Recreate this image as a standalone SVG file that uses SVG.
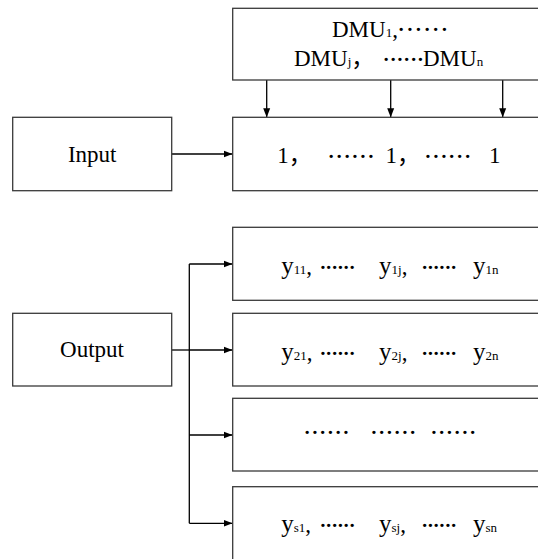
<svg xmlns="http://www.w3.org/2000/svg" width="538" height="559" viewBox="0 0 538 559">
<defs>
<style>
.box{fill:#fff;stroke:#3a3a3a;stroke-width:1.3}
.t{font-family:"Liberation Serif","Times New Roman",serif;font-size:23px;fill:#000}
.y{font-size:25px}
.sub{font-size:13px}
.cj{font-family:"Noto Sans CJK SC",sans-serif}
.dot{font-family:"Liberation Serif","Times New Roman",serif;font-size:28px;fill:#000}
.ln{fill:none;stroke:#000;stroke-width:1.3}
</style>
<marker id="ah" markerUnits="userSpaceOnUse" markerWidth="9" markerHeight="8" refX="9" refY="4" orient="auto">
<path d="M0,0.5 L9,4 L0,7.5 z" fill="#000"/>
</marker>
</defs>
<g id="connectors">
<line class="ln" x1="172" y1="154" x2="232.5" y2="154" marker-end="url(#ah)"/>
<line class="ln" x1="266.7" y1="80" x2="266.7" y2="117.3" marker-end="url(#ah)"/>
<line class="ln" x1="390.7" y1="80" x2="390.7" y2="117.3" marker-end="url(#ah)"/>
<line class="ln" x1="502.7" y1="80" x2="502.7" y2="117.3" marker-end="url(#ah)"/>
<line class="ln" x1="172" y1="350" x2="189.3" y2="350"/>
<line class="ln" x1="189.3" y1="264" x2="189.3" y2="523.3"/>
<line class="ln" x1="189.3" y1="264" x2="232.5" y2="264" marker-end="url(#ah)"/>
<line class="ln" x1="189.3" y1="350" x2="232.5" y2="350" marker-end="url(#ah)"/>
<line class="ln" x1="189.3" y1="435" x2="232.5" y2="435" marker-end="url(#ah)"/>
<line class="ln" x1="189.3" y1="523.3" x2="232.5" y2="523.3" marker-end="url(#ah)"/>
</g>
<g id="dmu">
<rect class="box" x="232.7" y="8.3" width="320" height="71.7"/>
<text class="t" x="332" y="36.5">DMU<tspan class="sub">1</tspan>,</text>
<text class="dot" x="396.6" y="39" letter-spacing="-0.7">······</text>
<text class="t" x="294" y="66">DMU<tspan class="sub">j</tspan><tspan class="cj">，</tspan></text>
<text class="dot" x="381.6" y="69" letter-spacing="-2.5">······</text>
<text class="t" x="423" y="66">DMU<tspan class="sub">n</tspan></text>
</g>
<g id="input">
<rect class="box" x="12.7" y="117.3" width="159" height="73.4"/>
<text class="t" x="92.2" y="162.3" text-anchor="middle">Input</text>
</g>
<g id="weights">
<rect class="box" x="232.7" y="117.3" width="320" height="73.4"/>
<text class="t" x="277.3" y="162.7" font-size="24">1<tspan class="cj">，</tspan></text>
<text class="dot" x="326.6" y="165.5" letter-spacing="-1.4">······</text>
<text class="t" x="385.6" y="162.7" font-size="24">1<tspan class="cj">，</tspan></text>
<text class="dot" x="423.3" y="165.5" letter-spacing="-1.4">······</text>
<text class="t" x="489" y="162.7" font-size="24">1</text>
</g>
<g id="output">
<rect class="box" x="12.7" y="313.3" width="159" height="72.7"/>
<text class="t" x="92" y="357.3" text-anchor="middle">Output</text>
</g>
<g id="row1">
<rect class="box" x="232.7" y="227.3" width="320" height="73"/>
<text class="t" x="281.3" y="273.5"><tspan class="y">y</tspan><tspan class="sub">11</tspan>,</text>
<text class="dot" x="318.3" y="276.5" letter-spacing="-3.5">······</text>
<text class="t" x="379" y="273.5"><tspan class="y">y</tspan><tspan class="sub">1j</tspan>,</text>
<text class="dot" x="419.9" y="276.5" letter-spacing="-3.5">······</text>
<text class="t" x="473" y="273.5"><tspan class="y">y</tspan><tspan class="sub">1n</tspan></text>
</g>
<g id="row2">
<rect class="box" x="232.7" y="313.3" width="320" height="72.7"/>
<text class="t" x="281.3" y="359.8"><tspan class="y">y</tspan><tspan class="sub">21</tspan>,</text>
<text class="dot" x="318.3" y="362.8" letter-spacing="-3.5">······</text>
<text class="t" x="379" y="359.8"><tspan class="y">y</tspan><tspan class="sub">2j</tspan>,</text>
<text class="dot" x="419.9" y="362.8" letter-spacing="-3.5">······</text>
<text class="t" x="473" y="359.8"><tspan class="y">y</tspan><tspan class="sub">2n</tspan></text>
</g>
<g id="row3">
<rect class="box" x="232.7" y="398.3" width="320" height="72.7"/>
<text class="dot" x="302.6" y="442" letter-spacing="-1.6">······</text>
<text class="dot" x="369.3" y="442" letter-spacing="-1.6">······</text>
<text class="dot" x="429.3" y="442" letter-spacing="-1.6">······</text>
</g>
<g id="row4">
<rect class="box" x="232.7" y="486.7" width="320" height="80"/>
<text class="t" x="281.3" y="531.5"><tspan class="y">y</tspan><tspan class="sub">s1</tspan>,</text>
<text class="dot" x="318.3" y="534.5" letter-spacing="-3.5">······</text>
<text class="t" x="379" y="531.5"><tspan class="y">y</tspan><tspan class="sub">sj</tspan>,</text>
<text class="dot" x="419.9" y="534.5" letter-spacing="-3.5">······</text>
<text class="t" x="473" y="531.5"><tspan class="y">y</tspan><tspan class="sub">sn</tspan></text>
</g>
</svg>
